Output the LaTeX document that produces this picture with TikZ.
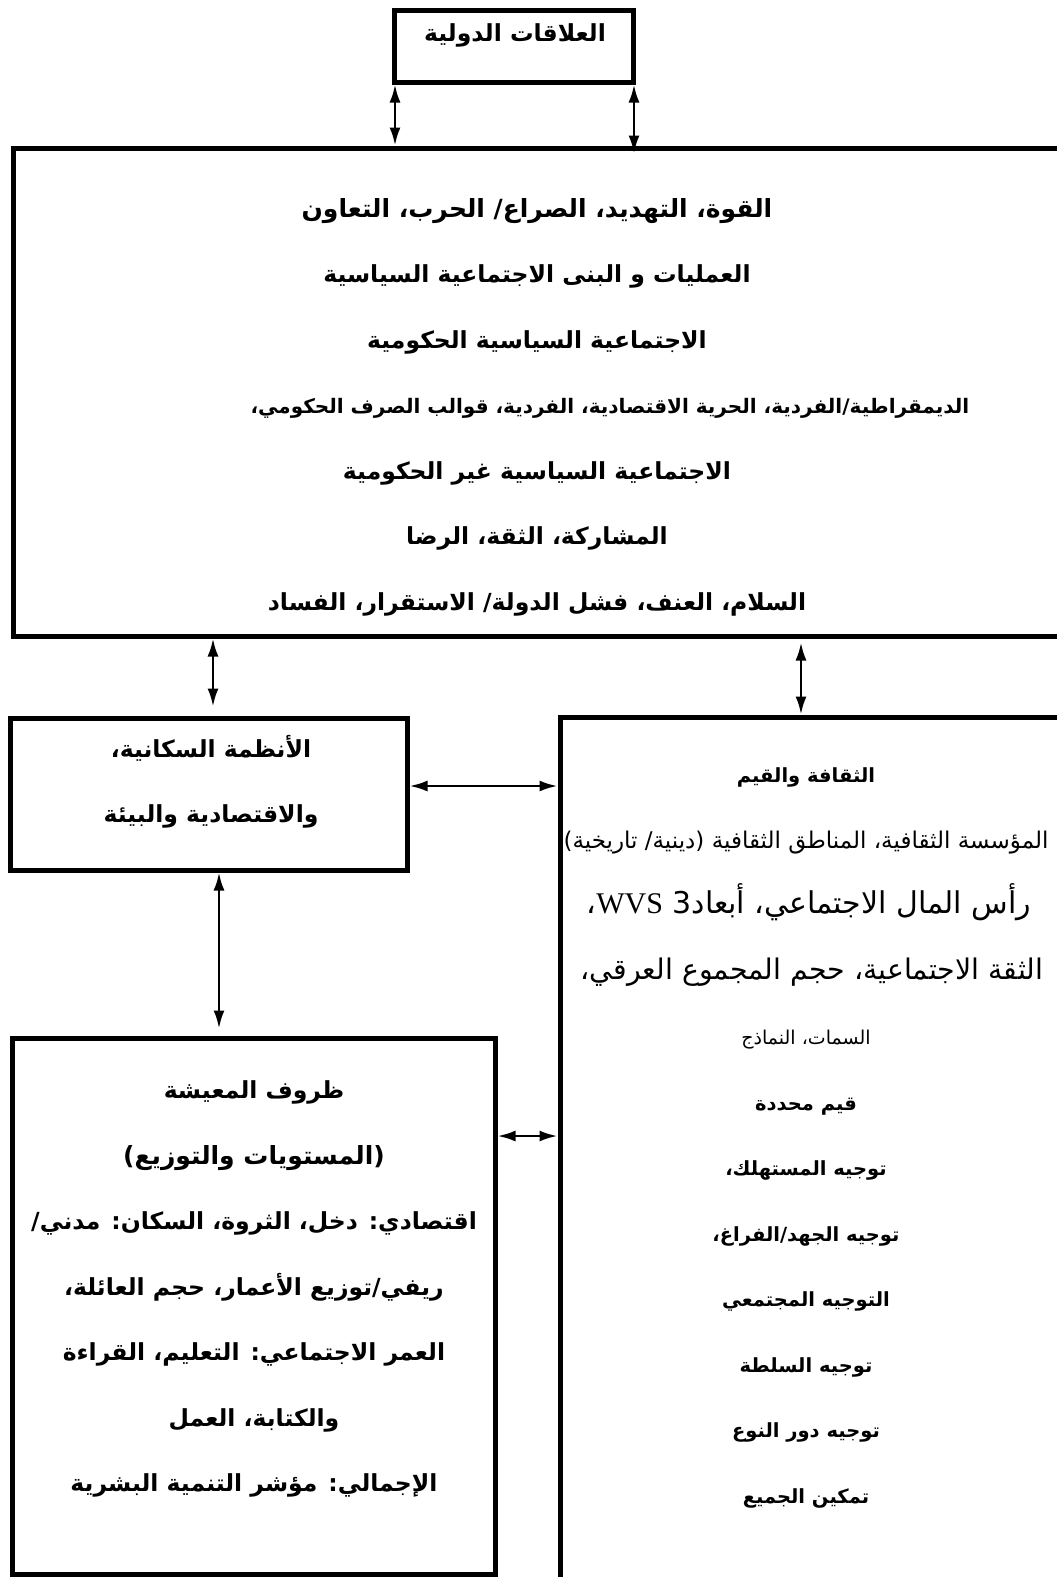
\documentclass[tikz,border=0pt]{standalone}
\usepackage{fontspec}
\newfontfamily\arabicfont[Script=Arabic]{DejaVu Sans}
\newfontfamily\latinserif{Liberation Serif}
\TeXXeTstate=1
\usetikzlibrary{positioning,arrows.meta}

\begin{document}
\begin{tikzpicture}[x=1pt,y=-1pt,
  box/.style={rectangle,draw,line width=5pt,inner sep=0pt},
  txt/.style={align=center,inner sep=0pt,font=\arabicfont\bfseries\fontsize{23.5}{65.5}\selectfont},
  dbl/.style={{Latex[length=18pt,width=11pt]}-{Latex[length=18pt,width=11pt]},line width=2.6pt}]
  \useasboundingbox (0,0) rectangle (1057,1577);
  \clip (0,0) rectangle (1057,1577);
  % boxes
  \node[box,minimum width=239pt,minimum height=72pt](intl) at (514,46){};
  \node[box,minimum width=1067pt,minimum height=488pt](big) at (546.5,392){};
  \node[box,minimum width=397pt,minimum height=152pt](pop) at (208.5,794){};
  \node[box,minimum width=520pt,minimum height=883pt](cult) at (820,1158.5){};
  \node[box,minimum width=483pt,minimum height=536pt](living) at (253.5,1306){};
  % texts
  \node[txt](intltxt) at (515,35){\beginR العلاقات الدولية\endR};
  \node[txt](bigtxt) at (537,407){%
    {\fontsize{25}{65.5}\selectfont\beginR القوة، التهديد، الصراع/ الحرب، التعاون\endR}\\
    \beginR العمليات و البنى الاجتماعية السياسية\endR\\
    \beginR الاجتماعية السياسية الحكومية\endR\\
    {\fontsize{20}{65.5}\selectfont\beginR الديمقراطية/الفردية، الحرية الاقتصادية، الفردية، قوالب الصرف الحكومي،\hspace*{146pt}\endR}\\
    \beginR الاجتماعية السياسية غير الحكومية\endR\\
    \beginR المشاركة، الثقة، الرضا\endR\\
    \beginR السلام، العنف، فشل الدولة/ الاستقرار، الفساد\endR};
  \node[txt](poptxt) at (211,782){%
    \beginR الأنظمة السكانية،\endR\\
    \beginR والاقتصادية والبيئة\endR};
  \node[txt,font=\arabicfont\bfseries\fontsize{19.5}{65.5}\selectfont](culttxt) at (806,1138){%
    \beginR الثقافة والقيم\endR\\
    {\mdseries\fontsize{23}{65.5}\selectfont\beginR المؤسسة الثقافية، المناطق الثقافية (دينية/ تاريخية)\endR}\\
    {\mdseries\fontsize{30}{65.5}\selectfont\beginR رأس المال الاجتماعي، أبعاد\hbox{3} \hbox{\latinserif WVS}،\hspace*{6pt}\endR}\\
    {\mdseries\fontsize{28.4}{65.5}\selectfont\beginR الثقة الاجتماعية، حجم المجموع العرقي،\hspace*{12pt}\endR}\\
    {\mdseries\fontsize{19}{65.5}\selectfont\beginR السمات، النماذج\endR}\\
    \beginR قيم محددة\endR\\
    \beginR توجيه المستهلك،\endR\\
    \beginR توجيه الجهد/الفراغ،\endR\\
    \beginR التوجيه المجتمعي\endR\\
    \beginR توجيه السلطة\endR\\
    \beginR توجيه دور النوع\endR\\
    \beginR تمكين الجميع\endR};
  \node[txt](livingtxt) at (254,1289){%
    \beginR ظروف المعيشة\endR\\
    {\fontsize{25}{65.5}\selectfont\beginR (المستويات والتوزيع)\endR}\\
    \beginR اقتصادي: دخل، الثروة، السكان: مدني/\endR\\
    \beginR ريفي/توزيع الأعمار، حجم العائلة،\endR\\
    \beginR العمر الاجتماعي: التعليم، القراءة\endR\\
    \beginR والكتابة، العمل\endR\\
    \beginR الإجمالي: مؤشر التنمية البشرية\endR};
  % connectors
  \draw[dbl]([xshift=3pt]intl.south west)--([xshift=3pt]intl.south west |- big.north);
  \draw[dbl,shorten >=-8pt]([xshift=-2pt]intl.south east)--([xshift=-2pt]intl.south east |- big.north);
  \draw[dbl,shorten >=9pt](213,0 |- big.south)--(213,0 |- pop.north);
  \draw[dbl,shorten <=4pt](801,0 |- big.south)--(801,0 |- cult.north);
  \draw[dbl](pop.east |- 0,786)--(cult.west |- 0,786);
  \draw[dbl,shorten >=7pt](219,0 |- pop.south)--(219,0 |- living.north);
  \draw[dbl](living.east |- 0,1136)--(cult.west |- 0,1136);
\end{tikzpicture}
\end{document}
